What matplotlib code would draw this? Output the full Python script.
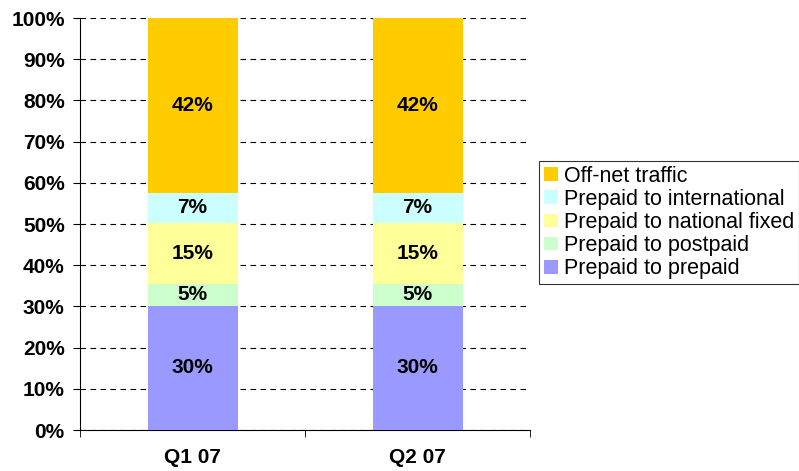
import matplotlib.pyplot as plt
import numpy as np

# Данные
quarters = ["Q1 07", "Q2 07"]
series = ["Prepaid to prepaid", "Prepaid to postpaid", "Prepaid to national fixed",
          "Prepaid to international", "Off-net traffic"]
values = {
    "Prepaid to prepaid": [30.2, 30.2],
    "Prepaid to postpaid": [5.3, 5.3],
    "Prepaid to national fixed": [14.7, 14.7],
    "Prepaid to international": [7.4, 7.4],
    "Off-net traffic": [42.4, 42.4],
}
labels = {
    "Prepaid to prepaid": ["30%", "30%"],
    "Prepaid to postpaid": ["5%", "5%"],
    "Prepaid to national fixed": ["15%", "15%"],
    "Prepaid to international": ["7%", "7%"],
    "Off-net traffic": ["42%", "42%"],
}
colors = ["#9999FF", "#CCFFCC", "#FFFF99", "#CCFFFF", "#FFCC00"]

plt.rcParams['font.family'] = ['Liberation Sans', 'DejaVu Sans']

fig = plt.figure(figsize=(7.99, 4.71), dpi=100)
ax = fig.add_axes([80 / 799, 41 / 471, 450 / 799, 412 / 471])

x = np.arange(len(quarters))
bottom = np.zeros(len(quarters))
handles = []
for name, col in zip(series, colors):
    vals = np.array(values[name])
    b = ax.bar(x, vals, 0.4, bottom=bottom, color=col, label=name, zorder=3)
    handles.append(b)
    for xi, v, bt, lab in zip(x, vals, bottom, labels[name]):
        ax.text(xi, bt + v / 2, lab, ha='center', va='center',
                fontsize=15, fontweight='bold', zorder=4)
    bottom += vals

ax.set_xlim(-0.5, 1.5)
ax.set_ylim(0, 100)
ax.set_yticks(np.arange(0, 101, 10))
ax.set_yticklabels([f"{v}%" for v in range(0, 101, 10)], fontsize=15, fontweight='bold')
ax.set_xticks(x)
ax.set_xticklabels(quarters, fontsize=15, fontweight='bold')
ax.tick_params(axis='x', length=0, pad=13)
ax.set_xticks([-0.5, 0.5, 1.5], minor=True)
ax.tick_params(axis='x', which='minor', length=5, direction='out')
ax.tick_params(axis='y', length=5, direction='out', pad=6)

ax.grid(axis='y', color='black', linestyle=(0, (5, 4)), linewidth=0.8, zorder=0)
for s in ['top', 'right']:
    ax.spines[s].set_visible(False)

# Легенда в обратном порядке
leg = fig.legend(handles[::-1], series[::-1], loc='upper left',
                 bbox_to_anchor=(539 / 799, 1 - 161 / 471), fontsize=15.5,
                 frameon=True, fancybox=False, edgecolor='black',
                 handlelength=0.65, handleheight=0.6, handletextpad=0.28,
                 labelspacing=0.1, borderpad=0.22, borderaxespad=0)
leg.get_frame().set_linewidth(0.8)

fig.savefig("out.png", dpi=100)
